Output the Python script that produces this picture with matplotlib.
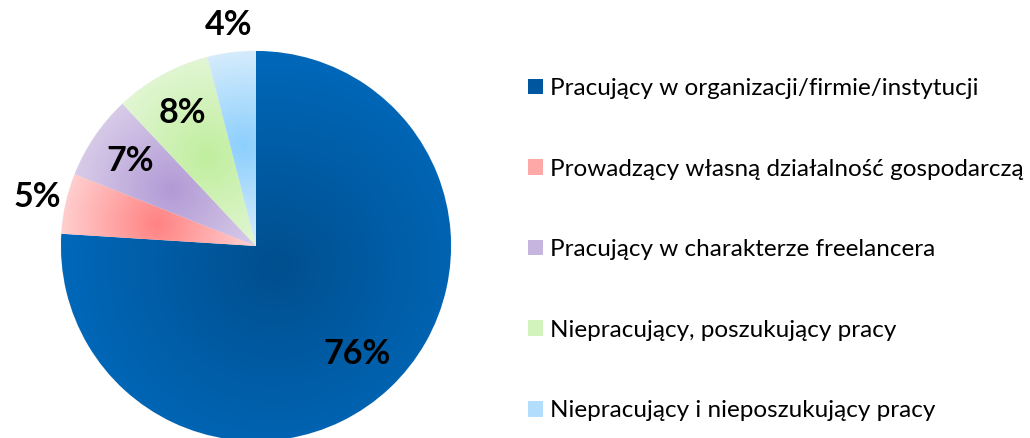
import matplotlib.pyplot as plt
import numpy as np
from matplotlib.colors import to_rgb
from matplotlib.patches import Patch

# data
categories = [
    "Pracujący w organizacji/firmie/instytucji",
    "Prowadzący własną działalność gospodarczą",
    "Pracujący w charakterze freelancera",
    "Niepracujący, poszukujący pracy",
    "Niepracujący i nieposzukujący pracy",
]
shares = [76, 5, 7, 8, 4]

# gradient colours: (centre, edge) per slice
center_colors = ["#004f8e", "#ff8282", "#b29ad5", "#c0ee9e", "#8ccffd"]
edge_colors = ["#0068ba", "#ffd2d2", "#d9cde9", "#e2f6d4", "#d8edfc"]
legend_colors = ["#00579f", "#ffa8a8", "#c6b6df", "#d2f3bb", "#b2ddfc"]
label_dist = [0.76, 1.15, 0.78, 0.78, 1.14]
focal_dist = [0.14, 0.52, 0.52, 0.52, 0.52]

plt.rcParams['font.family'] = ['Lato', 'DejaVu Sans']

fig = plt.figure(figsize=(10.30, 4.38), dpi=100)
R_px = 195
cx, cy = 256, 438 - 246
ax = fig.add_axes([(cx - R_px) / 1030, (cy - R_px) / 438, 2 * R_px / 1030, 2 * R_px / 438])

wedges, _ = ax.pie(shares, startangle=90, counterclock=False, radius=1,
                   wedgeprops=dict(linewidth=0.6, edgecolor="#f4f4f4"))
ax.set_xlim(-1, 1)
ax.set_ylim(-1, 1)
ax.set_aspect('equal')
ax.axis('off')

# path-style gradient fill for each slice
n = 500
xs = np.linspace(-1, 1, n)
X, Y = np.meshgrid(xs, xs)
for i, w in enumerate(wedges):
    mid = np.deg2rad((w.theta1 + w.theta2) / 2)
    fx, fy = focal_dist[i] * np.cos(mid), focal_dist[i] * np.sin(mid)
    d = np.hypot(X - fx, Y - fy)
    inside = w.get_path().contains_points(np.c_[X.ravel(), Y.ravel()],
                                          transform=w.get_patch_transform()).reshape(X.shape)
    dmax = d[inside].max() if inside.any() else 1
    t = np.clip(d / dmax, 0, 1)[..., None]
    c0 = np.array(to_rgb(center_colors[i]))
    c1 = np.array(to_rgb(edge_colors[i]))
    img = c0 * (1 - t) + c1 * t
    im = ax.imshow(img, extent=(-1, 1, -1, 1), origin='lower', zorder=w.get_zorder() + 0.1,
                   interpolation='bilinear')
    im.set_clip_path(w)
    w.set_facecolor(edge_colors[i])

# percentage labels
for i, w in enumerate(wedges):
    mid = np.deg2rad((w.theta1 + w.theta2) / 2)
    ax.text(label_dist[i] * np.cos(mid), label_dist[i] * np.sin(mid), f"{shares[i]}%",
            ha='center', va='center', fontsize=24.5, fontweight='bold', color='black',
            zorder=10, clip_on=False)

handles = [Patch(facecolor=c, edgecolor='none') for c in legend_colors]
fig.legend(handles, categories, loc='center left', bbox_to_anchor=(0.503, 0.43),
           frameon=False, fontsize=17.5, handlelength=0.62, handleheight=0.62,
           handletextpad=0.3, labelspacing=2.45, borderaxespad=0)

fig.savefig("out.png", dpi=100)
